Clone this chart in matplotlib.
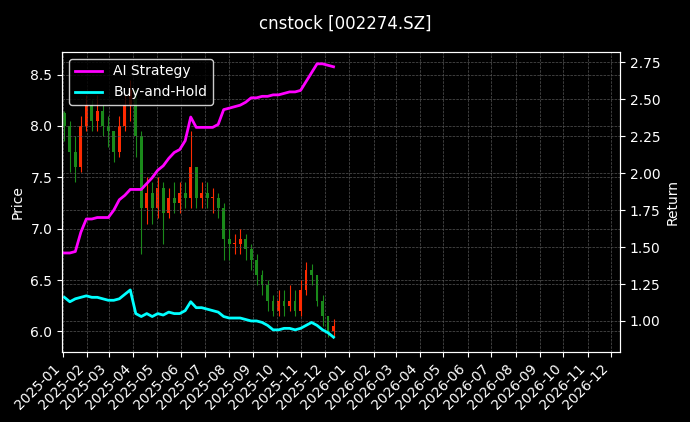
import matplotlib
matplotlib.use("Agg")
import matplotlib.pyplot as plt
import matplotlib.dates as mdates
import pandas as pd
import numpy as np

dates = pd.date_range("2025-01-03", "2025-12-12", freq="W-FRI")
close = [8.0,7.75,7.6,8.0,8.2,8.05,8.15,8.0,7.95,7.75,8.0,8.2,8.35,7.9,7.2,7.35,7.2,7.4,7.15,7.3,7.25,7.35,7.3,7.6,7.3,7.35,7.3,7.3,7.2,6.9,6.85,6.85,6.9,6.8,6.7,6.55,6.45,6.3,6.2,6.3,6.25,6.3,6.2,6.4,6.6,6.55,6.3,6.15,6.0,6.05]
high = [8.15,8.05,7.9,8.1,8.3,8.25,8.3,8.2,8.1,7.95,8.1,8.3,8.45,8.35,7.95,7.5,7.45,7.5,7.45,7.4,7.45,7.45,7.45,7.95,7.6,7.45,7.45,7.4,7.35,7.25,7.0,6.95,7.0,6.95,6.85,6.75,6.6,6.5,6.35,6.4,6.4,6.45,6.4,6.5,6.68,6.66,6.55,6.35,6.15,6.12]
low = [7.85,7.55,7.45,7.55,7.95,7.95,7.95,7.9,7.8,7.65,7.7,7.95,8.05,7.7,6.75,7.05,7.05,7.1,6.85,7.1,7.15,7.15,7.2,7.2,7.2,7.2,7.2,7.15,7.1,6.7,6.7,6.75,6.75,6.7,6.6,6.45,6.35,6.2,6.15,6.15,6.15,6.2,6.15,6.15,6.35,6.45,6.25,6.05,5.95,5.95]
first_open = 8.13
strategy = [1.46,1.46,1.47,1.60,1.69,1.69,1.70,1.70,1.70,1.75,1.82,1.85,1.89,1.89,1.89,1.93,1.97,2.02,2.05,2.10,2.14,2.16,2.22,2.38,2.31,2.31,2.31,2.31,2.33,2.43,2.44,2.45,2.46,2.48,2.51,2.51,2.52,2.52,2.53,2.53,2.54,2.55,2.55,2.56,2.62,2.68,2.74,2.74,2.73,2.72]
buyhold = [1.16,1.13,1.15,1.16,1.17,1.16,1.16,1.15,1.14,1.14,1.15,1.18,1.21,1.05,1.03,1.05,1.03,1.05,1.04,1.06,1.05,1.05,1.07,1.13,1.09,1.09,1.08,1.07,1.06,1.03,1.02,1.02,1.02,1.01,1.00,1.00,0.99,0.97,0.94,0.94,0.95,0.95,0.94,0.95,0.97,0.99,0.97,0.94,0.92,0.89]
opens = [first_open] + close[:-1]

fig = plt.figure(figsize=(6.9, 4.22), dpi=100, facecolor="black")
ax = fig.add_axes([62/690, 70/422, 558/690, 300/422], facecolor="black")
x = mdates.date2num(dates)
for xi, o, h, l, c in zip(x, opens, high, low, close):
    col = "#ff2a00" if c >= o else "#1a8a1a"
    ax.vlines(xi, l, h, color=col, lw=0.8)
    ax.bar(xi, abs(c - o) if abs(c-o) > 0.01 else 0.01, bottom=min(o, c), width=3.5, color=col)
ax.set_ylim(5.8, 8.72)
ax.set_xlim(mdates.date2num(pd.Timestamp("2024-12-31")), mdates.date2num(pd.Timestamp("2026-12-12")))
ax.set_ylabel("Price", color="white")
ax.xaxis.set_major_locator(mdates.MonthLocator())
ax.xaxis.set_major_formatter(mdates.DateFormatter("%Y-%m"))
plt.setp(ax.get_xticklabels(), rotation=45, ha="right")
ax.grid(True, color="#555555", ls="--", lw=0.5)

ax2 = ax.twinx()
l1, = ax2.plot(dates, strategy, color="#ff00ff", lw=2, label="AI Strategy")
l2, = ax2.plot(dates, buyhold, color="#00ffff", lw=2, label="Buy-and-Hold")
ax2.set_ylim(0.79, 2.82)
ax2.set_ylabel("Return", color="white")
ax2.grid(True, color="#555555", ls="--", lw=0.5)
for a in (ax, ax2):
    a.tick_params(colors="white")
    for s in a.spines.values():
        s.set_color("white")
leg = ax2.legend(handles=[l1, l2], loc="upper left", facecolor="black", edgecolor="white")
for t in leg.get_texts():
    t.set_color("white")
fig.suptitle("cnstock [002274.SZ]", color="white", y=0.965)
fig.savefig("out.png", facecolor="black")
